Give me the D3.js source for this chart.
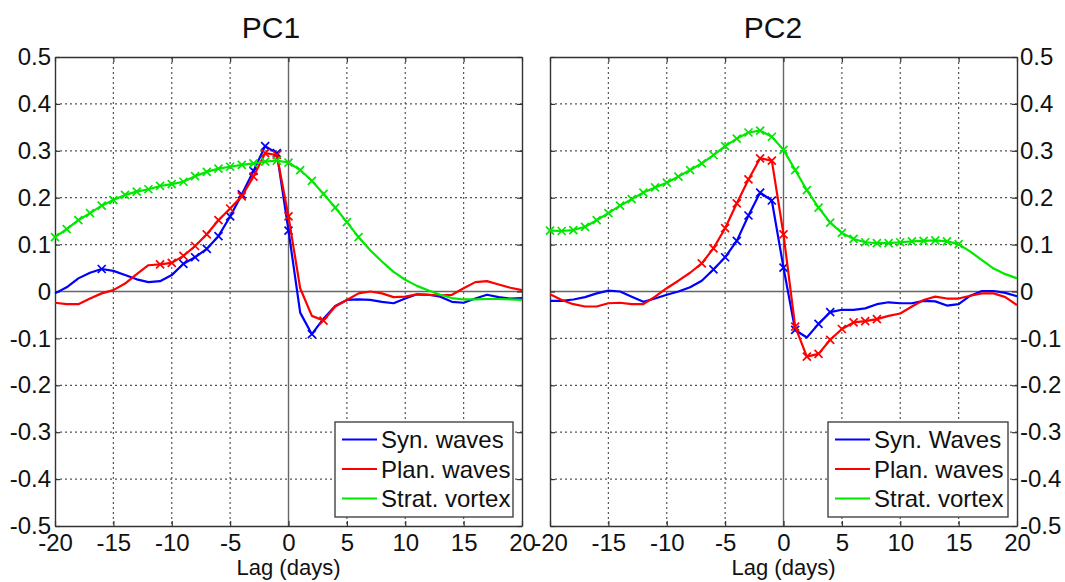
<!DOCTYPE html>
<html>
<head>
<meta charset="utf-8">
<script src="https://cdn.jsdelivr.net/npm/d3@7"></script>
<style>
  html, body { margin: 0; padding: 0; background: #fff; }
  svg { display: block; font-family: "Liberation Sans", Arial, Helvetica, sans-serif; }
</style>
</head>
<body>
<svg id="chart" width="1065" height="582"></svg>
<script>
// Lag in days, one value per day
const lags = d3.range(-20, 21);

const xTicks = [-20, -15, -10, -5, 0, 5, 10, 15, 20];
const yTicks = [-0.5, -0.4, -0.3, -0.2, -0.1, 0, 0.1, 0.2, 0.3, 0.4, 0.5];

// PC1 lag regressions
const pc1Syn = [-0.004, 0.009, 0.028, 0.040, 0.048, 0.044, 0.035, 0.026, 0.020, 0.022,
  0.035, 0.059, 0.073, 0.091, 0.118, 0.160, 0.207, 0.257, 0.310, 0.295,
  0.130, -0.045, -0.091, -0.058, -0.031, -0.018, -0.017, -0.018, -0.022, -0.025,
  -0.015, -0.006, -0.007, -0.011, -0.022, -0.024, -0.015, -0.007, -0.012, -0.015, -0.014];
const pc1Plan = [-0.024, -0.027, -0.027, -0.015, -0.004, 0.003, 0.017, 0.037, 0.056, 0.058,
  0.061, 0.076, 0.097, 0.122, 0.152, 0.177, 0.203, 0.245, 0.295, 0.291,
  0.160, 0.007, -0.052, -0.062, -0.032, -0.018, -0.004, 0.000, -0.004, -0.012,
  -0.011, -0.006, -0.007, -0.008, -0.007, 0.007, 0.020, 0.022, 0.015, 0.008, 0.003];
const pc1Strat = [0.116, 0.133, 0.152, 0.167, 0.183, 0.195, 0.206, 0.213, 0.218, 0.225,
  0.229, 0.234, 0.246, 0.255, 0.262, 0.266, 0.270, 0.273, 0.277, 0.279,
  0.275, 0.259, 0.236, 0.208, 0.179, 0.148, 0.116, 0.088, 0.064, 0.042,
  0.025, 0.012, 0.002, -0.007, -0.014, -0.017, -0.017, -0.016, -0.016, -0.017, -0.018];

// PC2 lag regressions
const pc2Syn = [-0.020, -0.020, -0.017, -0.012, -0.004, 0.002, 0.000, -0.011, -0.022, -0.015,
  -0.007, 0.000, 0.009, 0.023, 0.047, 0.073, 0.108, 0.162, 0.211, 0.194,
  0.051, -0.082, -0.098, -0.069, -0.044, -0.039, -0.039, -0.036, -0.027, -0.023,
  -0.025, -0.025, -0.020, -0.021, -0.030, -0.027, -0.009, 0.001, 0.001, -0.003, -0.010];
const pc2Plan = [-0.006, -0.018, -0.027, -0.032, -0.032, -0.025, -0.024, -0.027, -0.027, -0.011,
  0.007, 0.023, 0.040, 0.060, 0.092, 0.135, 0.188, 0.239, 0.284, 0.279,
  0.122, -0.075, -0.139, -0.133, -0.103, -0.080, -0.066, -0.063, -0.059, -0.052,
  -0.047, -0.032, -0.018, -0.011, -0.015, -0.015, -0.009, -0.004, -0.004, -0.012, -0.029];
const pc2Strat = [0.130, 0.129, 0.131, 0.138, 0.152, 0.167, 0.183, 0.197, 0.211, 0.222,
  0.232, 0.245, 0.259, 0.273, 0.291, 0.310, 0.326, 0.339, 0.343, 0.330,
  0.302, 0.259, 0.216, 0.179, 0.147, 0.125, 0.112, 0.105, 0.103, 0.103,
  0.105, 0.107, 0.108, 0.109, 0.107, 0.101, 0.085, 0.067, 0.049, 0.037, 0.028];

// Lags marked as significant (drawn with x markers)
const pc1SynSig = [-16, -9, -8, -7, -6, -5, -4, -3, -2, -1, 0, 2];
const pc1PlanSig = [-11, -10, -9, -8, -7, -6, -5, -4, -3, -2, -1, 0, 3];
const pc1StratSig = d3.range(-20, 7);
const pc2SynSig = [-6, -5, -4, -3, -2, -1, 0, 1, 3, 4];
const pc2PlanSig = d3.range(-7, 9);
const pc2StratSig = d3.range(-20, 16);

const seriesNames1 = ["Syn. waves", "Plan. waves", "Strat. vortex"];
const seriesNames2 = ["Syn. Waves", "Plan. waves", "Strat. vortex"];
const colors = ["#0000ff", "#ff0000", "#00e800"];

const panels = [
  { title: "PC1", titleX: 271, left: 55, right: 522, yAxisSide: "left", names: seriesNames1,
    series: [pc1Syn, pc1Plan, pc1Strat], sig: [pc1SynSig, pc1PlanSig, pc1StratSig],
    legend: { x: 335, y: 422, w: 178, h: 95 } },
  { title: "PC2", titleX: 773, left: 550, right: 1017, yAxisSide: "right", names: seriesNames2,
    series: [pc2Syn, pc2Plan, pc2Strat], sig: [pc2SynSig, pc2PlanSig, pc2StratSig],
    legend: { x: 828, y: 422, w: 180, h: 95 } }
];

const plotTop = 57, plotBottom = 526;
const svg = d3.select("#chart");
// plain hyphen for negative numbers
const fmtY = d => (d === 0 ? "0" : d3.format(".1f")(d).replace("\u2212", "-"));
const fmtX = d => String(d);
const frameColor = "#333";
const tickFont = 24;

panels.forEach(p => {
  const x = d3.scaleLinear().domain([-20, 20]).range([p.left, p.right]);
  const y = d3.scaleLinear().domain([-0.5, 0.5]).range([plotBottom, plotTop]);
  const g = svg.append("g");

  // Dotted grid
  g.append("g").selectAll("line").data(xTicks.filter(t => t !== 0 && Math.abs(t) !== 20)).join("line")
    .attr("x1", d => x(d)).attr("x2", d => x(d)).attr("y1", plotTop).attr("y2", plotBottom)
    .attr("stroke", "#555").attr("stroke-width", 1.2).attr("stroke-dasharray", "2,3");
  g.append("g").selectAll("line").data(yTicks.filter(t => t !== 0 && Math.abs(t) !== 0.5)).join("line")
    .attr("x1", p.left).attr("x2", p.right).attr("y1", d => y(d)).attr("y2", d => y(d))
    .attr("stroke", "#555").attr("stroke-width", 1.2).attr("stroke-dasharray", "2,3");

  // Zero lines
  g.append("line").attr("x1", p.left).attr("x2", p.right).attr("y1", y(0)).attr("y2", y(0))
    .attr("stroke", "#666").attr("stroke-width", 1.4);
  g.append("line").attr("x1", x(0)).attr("x2", x(0)).attr("y1", plotTop).attr("y2", plotBottom)
    .attr("stroke", "#666").attr("stroke-width", 1.4);

  // Axes with inward ticks
  const styleAxis = sel => {
    sel.select(".domain").attr("stroke", frameColor).attr("stroke-width", 1.4);
    sel.selectAll(".tick line").attr("stroke", frameColor).attr("stroke-width", 1.2);
    sel.selectAll("text").attr("fill", "#111").attr("font-size", tickFont)
      .attr("font-family", "'Liberation Sans', Arial, sans-serif");
  };
  g.append("g").attr("transform", `translate(0,${plotBottom})`)
    .call(d3.axisBottom(x).tickValues(xTicks).tickFormat(fmtX)
      .tickSizeInner(-5).tickSizeOuter(0).tickPadding(8))
    .call(styleAxis);
  g.append("g").attr("transform", `translate(0,${plotTop})`)
    .call(d3.axisTop(x).tickValues(xTicks).tickFormat("").tickSizeInner(-5).tickSizeOuter(0))
    .call(styleAxis);
  if (p.yAxisSide === "left") {
    g.append("g").attr("transform", `translate(${p.left},0)`)
      .call(d3.axisLeft(y).tickValues(yTicks).tickFormat(fmtY).tickSizeInner(-5).tickSizeOuter(0).tickPadding(4))
      .call(styleAxis);
    g.append("g").attr("transform", `translate(${p.right},0)`)
      .call(d3.axisRight(y).tickValues(yTicks).tickFormat("").tickSizeInner(-5).tickSizeOuter(0))
      .call(styleAxis);
  } else {
    g.append("g").attr("transform", `translate(${p.right},0)`)
      .call(d3.axisRight(y).tickValues(yTicks).tickFormat(fmtY).tickSizeInner(-5).tickSizeOuter(0).tickPadding(3))
      .call(styleAxis);
    g.append("g").attr("transform", `translate(${p.left},0)`)
      .call(d3.axisLeft(y).tickValues(yTicks).tickFormat("").tickSizeInner(-5).tickSizeOuter(0))
      .call(styleAxis);
  }

  // Series lines and significance markers
  const line = d3.line().x((d, i) => x(lags[i])).y(d => y(d));
  p.series.forEach((vals, k) => {
    g.append("path").datum(vals).attr("d", line)
      .attr("fill", "none").attr("stroke", colors[k]).attr("stroke-width", 2.2)
      .attr("stroke-linejoin", "round");
    const m = 4;
    g.append("g").selectAll("path").data(p.sig[k]).join("path")
      .attr("d", d => {
        const cx = x(d), cy = y(vals[lags.indexOf(d)]);
        return `M${cx - m},${cy - m}L${cx + m},${cy + m}M${cx - m},${cy + m}L${cx + m},${cy - m}`;
      })
      .attr("stroke", colors[k]).attr("stroke-width", 1.7).attr("fill", "none");
  });

  // Title and x-axis label
  svg.append("text").attr("x", p.titleX).attr("y", 38)
    .attr("text-anchor", "middle").attr("font-size", 30).attr("fill", "#111").text(p.title);
  svg.append("text").attr("x", (p.left + p.right) / 2).attr("y", 575)
    .attr("text-anchor", "middle").attr("font-size", 22).attr("fill", "#111").text("Lag (days)");

  // Legend
  const L = p.legend;
  const lg = svg.append("g").attr("transform", `translate(${L.x},${L.y})`);
  lg.append("rect").attr("width", L.w).attr("height", L.h)
    .attr("fill", "#fff").attr("stroke", "#444").attr("stroke-width", 1.4);
  p.names.forEach((name, k) => {
    const cy = 17.5 + k * 29.5;
    lg.append("line").attr("x1", 7).attr("x2", 42).attr("y1", cy).attr("y2", cy)
      .attr("stroke", colors[k]).attr("stroke-width", 2);
    lg.append("text").attr("x", 46).attr("y", cy).attr("dy", "0.36em")
      .attr("font-size", 24).attr("fill", "#111").text(name);
  });
});
</script>
</body>
</html>
